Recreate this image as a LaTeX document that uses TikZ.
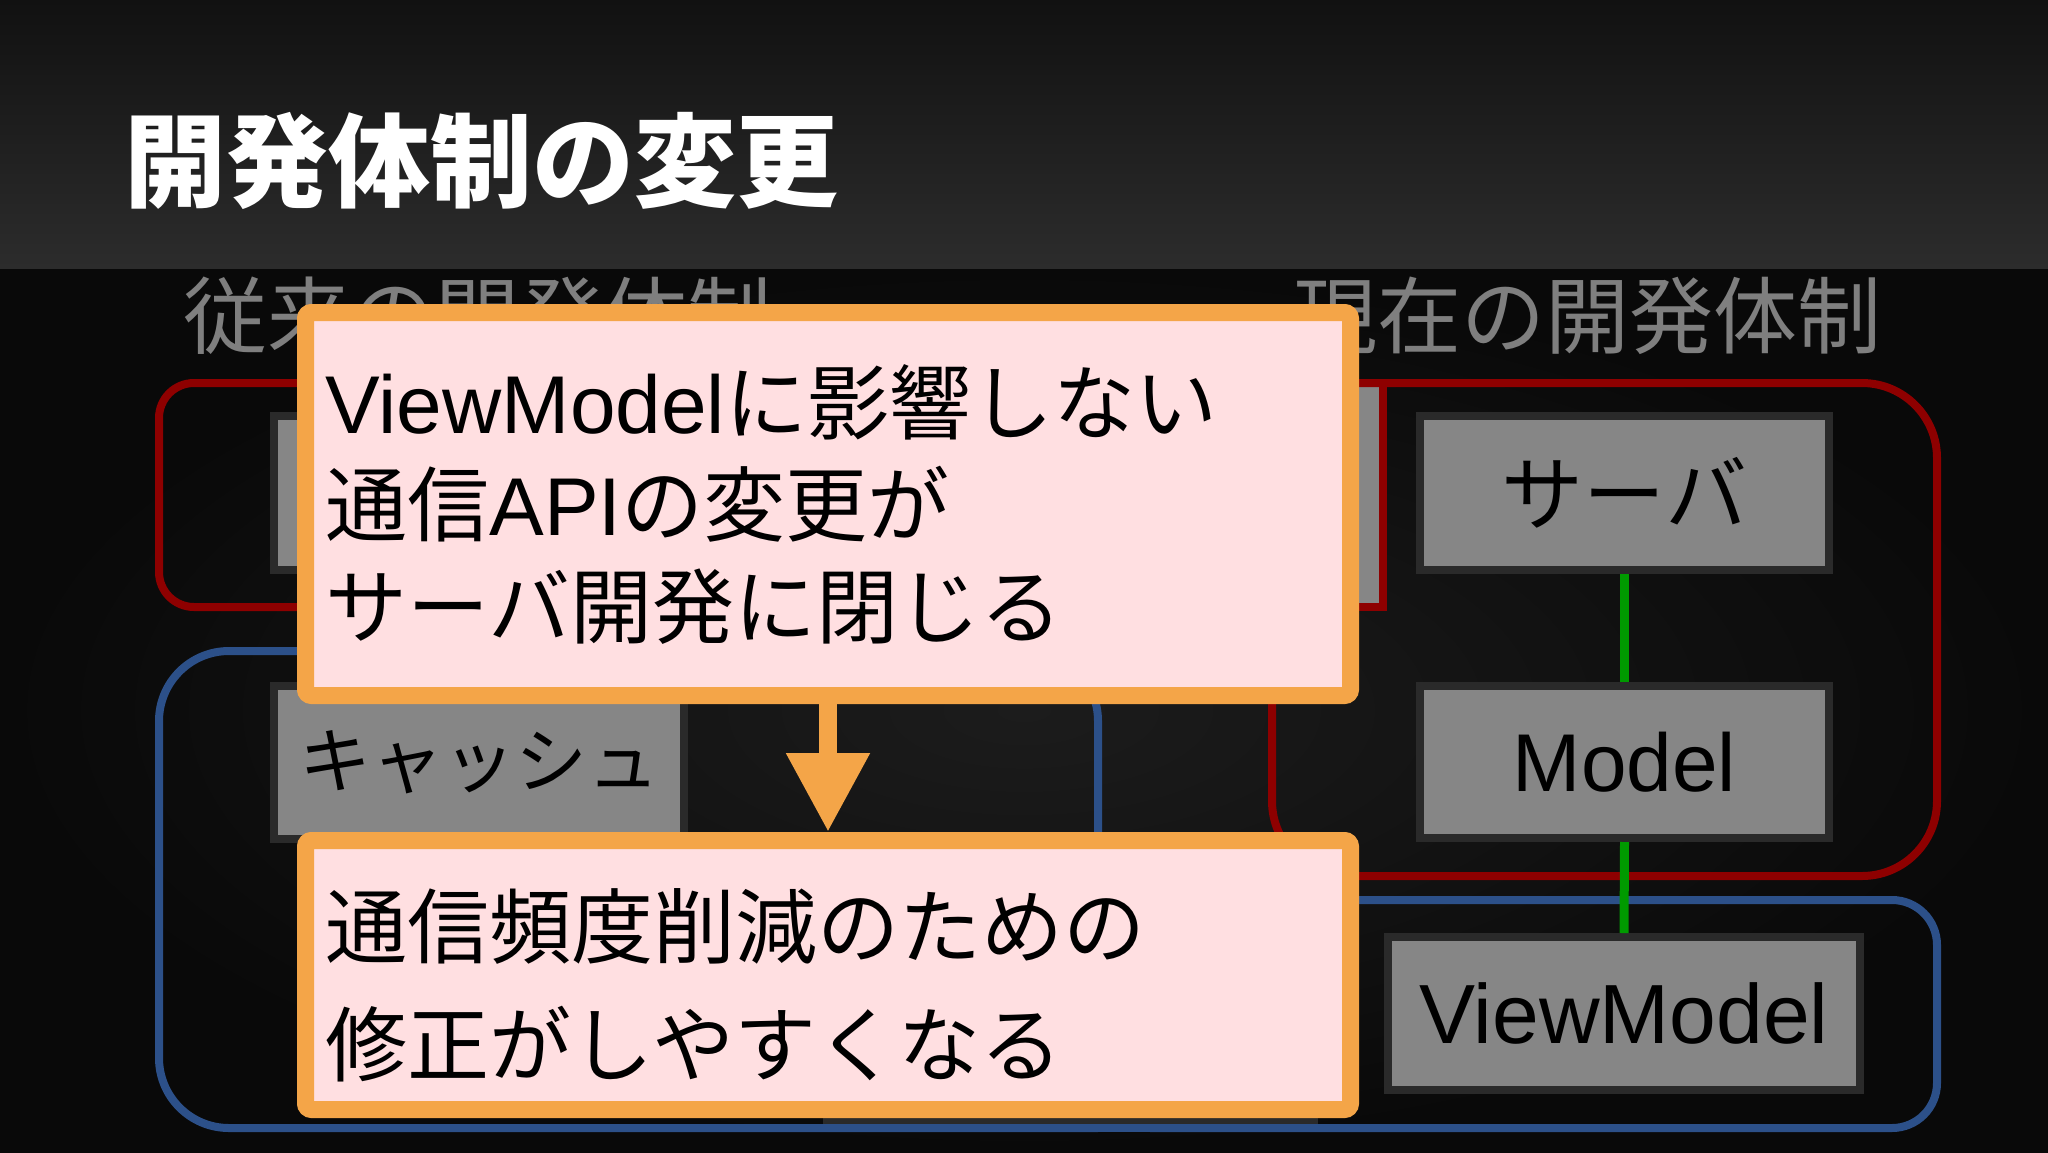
\documentclass[tikz,border=0pt]{standalone}
\usepackage{fontspec}
\setmainfont{Liberation Sans}
\newfontfamily\cjk{Noto Sans CJK JP}
\usetikzlibrary{arrows.meta}
\definecolor{bandtop}{HTML}{111111}
\definecolor{bandbot}{HTML}{2C2C2C}
\definecolor{bgin}{HTML}{1C1C1C}
\definecolor{bgout}{HTML}{090909}
\definecolor{boxfill}{HTML}{868686}
\definecolor{boxedge}{HTML}{2A2A2A}
\definecolor{redc}{HTML}{8E0000}
\definecolor{bluec}{HTML}{2C5089}
\definecolor{greenc}{HTML}{009A00}
\definecolor{orangec}{HTML}{F4A548}
\definecolor{pinkc}{HTML}{FFDFE1}
\definecolor{subtitle}{HTML}{7F7F7F}
\begin{document}
\begin{tikzpicture}[x=1pt,y=-1pt,
  graybox/.style={draw=boxedge, fill=boxfill, line width=8pt, inner sep=0pt, text=black, font=\fontsize{82}{98}\selectfont},
  pinkbox/.style={draw=orangec, fill=pinkc, line width=17pt, rounded corners=6pt, inner xsep=20pt, inner ysep=0pt, text width=1005pt, align=left, minimum width=1045pt, text=black},
  redframe/.style={draw=redc, line width=8pt},
  blueframe/.style={draw=bluec, line width=8pt},
  link/.style={draw=greenc, line width=9pt},
  flow/.style={draw=orangec, line width=18pt, -{Triangle[width=79pt,length=79pt]}},
  heading/.style={anchor=base west, inner sep=0pt, text=subtitle, font=\cjk\fontsize{84}{90}\selectfont}
]
\useasboundingbox (0,0) rectangle (2048,1152);
% background
\fill[inner color=bgin, outer color=bgout] (0,268) rectangle (2048,1152);
\fill[top color=bandtop, bottom color=bandbot] (0,0) rectangle (2048,268);

% title
\node[anchor=base west, inner sep=0pt, text=white, font=\cjk\bfseries\fontsize{102}{110}\selectfont] (title) at (124,199) {開発体制の変更};

% column headings
\node[heading] (oldhead) at (183,347) {従来の開発体制};
\node[heading] (newhead) at (1293,347) {現在の開発体制};

% hidden gray pieces
\fill[boxfill] (1200,387) rectangle (1379,603);
\node[graybox, minimum width=422pt, minimum height=154pt] (oldsrv) at (485,493) {};
\node[graybox, minimum width=487pt, minimum height=158pt] (oldvm) at (1070.5,1043) {};

% frames
\draw[redframe, rounded corners=35pt] (159,383) rectangle (1300,607);
\draw[redframe] (1300,383) -- (1383,383) -- (1383,607) -- (1300,607);
\draw[redframe, rounded corners=75pt] (1272,383) rectangle (1937,876);
\draw[blueframe, rounded corners=70pt] (1098,1060) -- (1098,651) -- (159,651) -- (159,1128) -- (1098,1128);
\draw[blueframe, rounded corners=45pt] (1150,1060) -- (1150,900) -- (1937,900) -- (1937,1128) -- (1150,1128);
\draw[blueframe] (1090,1128) -- (1160,1128);

% boxes
\node[graybox, minimum width=410pt, minimum height=153pt, font=\cjk\fontsize{72}{86}\selectfont] (cache) at (479,762.5) {キャッシュ};
\node[graybox, minimum width=409pt, minimum height=154pt, font=\cjk\fontsize{82}{98}\selectfont] (srv) at (1624.5,493) {サーバ};
\node[graybox, minimum width=409pt, minimum height=152pt] (mdl) at (1624.5,762) {Model};
\node[graybox, minimum width=472pt, minimum height=153pt, font=\fontsize{84}{98}\selectfont] (vm) at (1624,1013.5) {ViewModel};

\draw[link] (srv.south) -- (mdl.north);
\draw[link] (mdl.south) -- (vm.north);

% callouts
\node[pinkbox, minimum height=383pt, font=\fontsize{82}{102}\selectfont] (pa) at (828,504)
  {ViewModel{\cjk に影響しない}\\{\cjk 通信}API{\cjk の変更が}\\{\cjk サーバ開発に閉じる}};
\node[pinkbox, minimum height=269pt, font=\fontsize{82}{118}\selectfont] (pb) at (828,975)
  {\rule{0pt}{90pt}{\cjk 通信頻度削減のための}\\{\cjk 修正がしやすくなる}};
\draw[flow] (pa.south) -- (pb.north);
\end{tikzpicture}
\end{document}
